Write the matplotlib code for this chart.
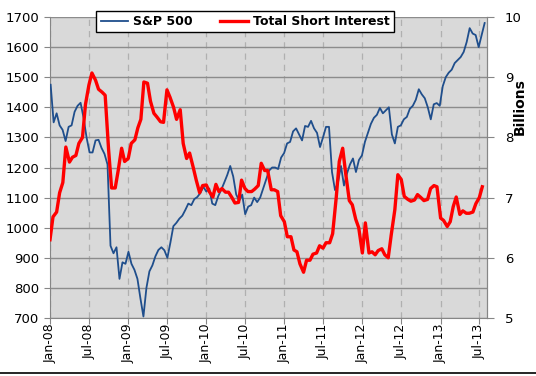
"""S&P 500 vs total short interest"""
import matplotlib.pyplot as plt
import pandas as pd

# S&P 500, every second Friday from 2008-01-04
sp500 = [1475, 1350, 1380, 1340, 1325, 1288, 1335, 1340, 1385, 1405,
         1415, 1365, 1300, 1250, 1250, 1290, 1292, 1265, 1245, 1210,
         940, 915, 935, 830, 885, 880, 920, 880, 860, 830,
         765, 705, 800, 855, 875, 905, 926, 935, 925, 900,
         950, 1005, 1016, 1030, 1040, 1059, 1080, 1075, 1095, 1102,
         1115, 1136, 1120, 1130, 1080, 1075, 1105, 1126, 1150, 1175,
         1205, 1170, 1110, 1090, 1110, 1045, 1070, 1075, 1100, 1085,
         1100, 1130, 1160, 1190, 1200, 1200, 1195, 1233, 1248, 1280,
         1285, 1320, 1330, 1310, 1290, 1338, 1335, 1355, 1330, 1315,
         1268, 1300, 1335, 1335, 1185, 1125, 1150, 1205, 1140, 1180,
         1210, 1230, 1185, 1225, 1240, 1285, 1315, 1345, 1365, 1375,
         1398, 1380, 1390, 1400, 1310, 1280, 1335, 1340, 1360, 1368,
         1395, 1405, 1425, 1460, 1443, 1430, 1400, 1360, 1410, 1414,
         1405, 1470, 1500, 1515, 1525, 1547, 1557, 1567, 1584, 1617,
         1663, 1645, 1640, 1600, 1640, 1680]

# total short interest (billions), 1st and 15th of each month from 2008-01-01
short_int = [6.30, 6.68, 6.76, 7.08, 7.25, 7.84, 7.59, 7.67, 7.70, 7.90,
             8.00, 8.55, 8.87, 9.07, 8.95, 8.80, 8.75, 8.70, 7.80, 7.16,
             7.16, 7.45, 7.82, 7.60, 7.65, 7.90, 7.96, 8.16, 8.30, 8.92,
             8.90, 8.60, 8.40, 8.34, 8.26, 8.25, 8.79, 8.67, 8.50, 8.30,
             8.46, 7.90, 7.65, 7.74, 7.50, 7.29, 7.08, 7.20, 7.21, 7.10,
             7.01, 7.22, 7.10, 7.15, 7.09, 7.09, 7.00, 6.91, 6.92, 7.29,
             7.15, 7.10, 7.10, 7.14, 7.20, 7.57, 7.45, 7.45, 7.13, 7.13,
             7.10, 6.70, 6.60, 6.35, 6.35, 6.13, 6.10, 5.90, 5.76, 5.96,
             5.96, 6.06, 6.08, 6.20, 6.16, 6.25, 6.25, 6.40, 7.01, 7.60,
             7.82, 7.40, 6.95, 6.88, 6.64, 6.50, 6.08, 6.58, 6.08, 6.10,
             6.05, 6.12, 6.15, 6.05, 6.00, 6.38, 6.80, 7.38, 7.30, 7.02,
             6.97, 6.94, 6.96, 7.05, 7.00, 6.95, 6.97, 7.15, 7.20, 7.18,
             6.66, 6.62, 6.52, 6.60, 6.85, 7.01, 6.72, 6.78, 6.74, 6.74,
             6.76, 6.90, 7.00, 7.18]

sp_dates = pd.date_range('2008-01-04', periods=len(sp500), freq='2W-FRI')
si_dates = pd.date_range('2008-01-01', periods=len(short_int), freq='SMS')
tick_dates = pd.date_range('2008-01-01', '2013-07-01', freq='6MS')
tick_labels = [d.strftime('%b-%y') for d in tick_dates]

fig = plt.figure(figsize=(5.36, 3.76), dpi=100)
ax = fig.add_axes([50 / 536, 58 / 376, 437 / 536, 301 / 376])
ax.set_facecolor('#d9d9d9')

ax.plot(sp_dates, sp500, color='#1f4e8c', lw=1.3, label='S&P 500', zorder=3)
ax.set_ylim(700, 1700)
ax.set_yticks(range(700, 1701, 100))
ax.set_xlim(pd.Timestamp('2008-01-01'), pd.Timestamp('2013-08-06'))
ax.set_xticks(tick_dates)
ax.grid(axis='y', color='#8c8c8c', lw=1)
ax.grid(axis='x', color='#b0b0b0', lw=0.9, ls=(0, (5, 4)))
ax.set_axisbelow(True)
ax.tick_params(axis='x', length=4, color='#868686', labelbottom=False)
ax.tick_params(axis='y', labelsize=9.5, length=4, color='#868686')
for side in ['left', 'bottom', 'right']:
    ax.spines[side].set_color('#868686')
ax.spines['top'].set_visible(False)

# date labels, written upward under each tick
for d, txt in zip(tick_dates, tick_labels):
    ax.text(d, -0.018, txt, transform=ax.get_xaxis_transform(), rotation=90,
            ha='center', va='top', fontsize=9)

ax2 = ax.twinx()
ax2.plot(si_dates, short_int, color='#ff0000', lw=2.4,
         label='Total Short Interest', zorder=4)
ax2.set_ylim(5, 10)
ax2.set_yticks([5, 6, 7, 8, 9, 10])
ax2.tick_params(axis='y', labelsize=9.5, length=5, color='#868686', pad=8)
ax2.spines['right'].set_color('#868686')
ax2.spines['top'].set_visible(False)
ax2.spines['left'].set_visible(False)
ax2.spines['bottom'].set_visible(False)
ax.set_zorder(ax2.get_zorder() - 1)
ax.patch.set_visible(True)
ax2.patch.set_visible(False)

fig.text(520 / 536, 1 - 107 / 376, 'Billions', rotation=90, fontsize=10,
         fontweight='bold', ha='center', va='center')

h1, l1 = ax.get_legend_handles_labels()
h2, l2 = ax2.get_legend_handles_labels()
leg = fig.legend(h1 + h2, l1 + l2, ncol=2, loc='center',
                 bbox_to_anchor=(245 / 536, 1 - 21.5 / 376),
                 prop={'weight': 'bold', 'size': 9}, frameon=True,
                 fancybox=False, edgecolor='black', framealpha=1,
                 handlelength=2.2, columnspacing=2.2, borderpad=0.35,
                 handletextpad=0.4)
leg.get_frame().set_linewidth(1.0)

fig.add_artist(plt.Line2D([0, 1], [3.5 / 376, 3.5 / 376], color='black', lw=1.2))

fig.savefig('out.png', dpi=100)
